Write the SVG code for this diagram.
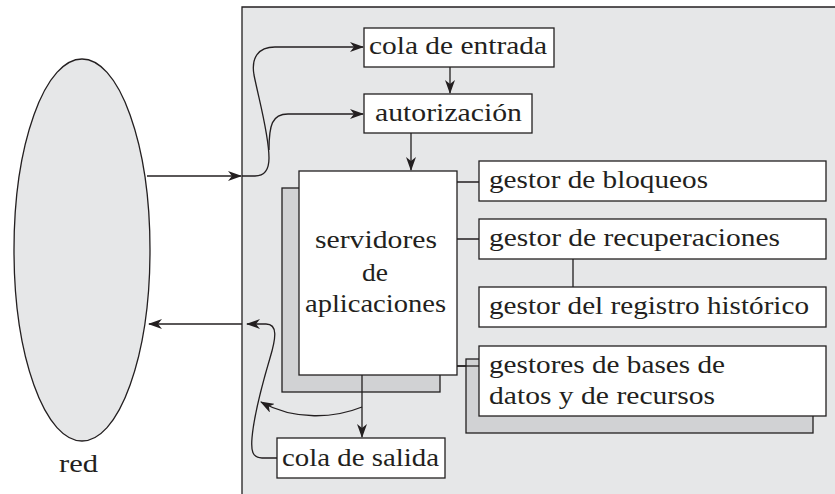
<svg xmlns="http://www.w3.org/2000/svg" width="835" height="494" viewBox="0 0 835 494">
<defs>
<style>
.box{fill:#ffffff;stroke:#231f20;stroke-width:1.3}
.shadow{fill:#d1d2d4;stroke:#231f20;stroke-width:1.3}
.ln{fill:none;stroke:#231f20;stroke-width:1.3}
.arr{fill:none;stroke:#231f20;stroke-width:1.3;marker-end:url(#ah)}
</style>
<marker id="ah" markerUnits="userSpaceOnUse" viewBox="0 0 14 10" refX="13" refY="5" markerWidth="14" markerHeight="10" orient="auto">
<path d="M0,0 L14,5 L0,10 L4,5 Z" fill="#231f20"/>
</marker>
</defs>
<rect x="0" y="0" width="835" height="494" fill="#ffffff"/>
<g id="panel">
<rect x="242" y="7" width="593" height="487" fill="#e6e7e8"/>
<path class="ln" d="M242,494 V7 H835"/>
</g>
<g font-family="Liberation Serif, DejaVu Serif, serif" font-size="26" fill="#231f20">
<g id="red">
<ellipse cx="82" cy="250" rx="68" ry="191" fill="#e6e7e8" stroke="#231f20" stroke-width="1.3"/>
<text x="59" y="472" textLength="39" lengthAdjust="spacingAndGlyphs">red</text>
</g>
<g id="connectors">
<path class="arr" d="M147,176 H241"/>
<path class="arr" d="M242,176 H255 C265,176 269,170 269,158 C269,135 259,100 254,75 C251,58 258,47 275,47 H363"/>
<path class="arr" d="M269,150 C269,125 272,114 288,114 H363"/>
<path class="arr" d="M450,67 V93"/>
<path class="arr" d="M411,133 V170"/>
<path class="arr" d="M362,375 V437"/>
<path class="arr" d="M362,407 C335,418 295,421 261,402"/>
<path class="arr" d="M277,458 H262 C252,458 251,450 252,438 C254,415 262,385 270,358 C276,338 278,324 266,324 H247"/>
<path class="arr" d="M242,324 H149"/>
<path class="ln" d="M457,182 H479 M457,239 H479 M573,259 V287 M457,366 H479"/>
</g>
<g id="cola-entrada">
<rect class="box" x="364" y="28" width="190" height="39"/>
<text x="369" y="54" textLength="178" lengthAdjust="spacingAndGlyphs">cola de entrada</text>
</g>
<g id="autorizacion">
<rect class="box" x="364" y="94" width="168" height="39"/>
<text x="375" y="121" textLength="147" lengthAdjust="spacingAndGlyphs">autorización</text>
</g>
<g id="servidores">
<rect class="shadow" x="282" y="188" width="158" height="204"/>
<path class="ln" d="M362,375 V392"/>
<rect class="box" x="299" y="171" width="158" height="204"/>
<text x="376" y="248" text-anchor="middle" textLength="122" lengthAdjust="spacingAndGlyphs">servidores</text>
<text x="375" y="281" text-anchor="middle" textLength="26" lengthAdjust="spacingAndGlyphs">de</text>
<text x="375.5" y="312" text-anchor="middle" textLength="141" lengthAdjust="spacingAndGlyphs">aplicaciones</text>
</g>
<g id="gestor-bloqueos">
<rect class="box" x="479" y="161" width="347" height="40"/>
<text x="489" y="188" textLength="219" lengthAdjust="spacingAndGlyphs">gestor de bloqueos</text>
</g>
<g id="gestor-recuperaciones">
<rect class="box" x="479" y="219" width="347" height="40"/>
<text x="489" y="246" textLength="291" lengthAdjust="spacingAndGlyphs">gestor de recuperaciones</text>
</g>
<g id="gestor-registro">
<rect class="box" x="479" y="287" width="347" height="40"/>
<text x="489" y="314" textLength="320" lengthAdjust="spacingAndGlyphs">gestor del registro histórico</text>
</g>
<g id="gestores-bd">
<rect class="shadow" x="466" y="359" width="347" height="74"/>
<path class="ln" d="M457,366 H479"/>
<rect class="box" x="479" y="346" width="347" height="70"/>
<text x="489" y="373" textLength="236" lengthAdjust="spacingAndGlyphs">gestores de bases de</text>
<text x="489" y="404" textLength="226" lengthAdjust="spacingAndGlyphs">datos y de recursos</text>
</g>
<g id="cola-salida">
<rect class="box" x="277" y="438" width="168" height="40"/>
<text x="282" y="466" textLength="157" lengthAdjust="spacingAndGlyphs">cola de salida</text>
</g>
</g>
</svg>
